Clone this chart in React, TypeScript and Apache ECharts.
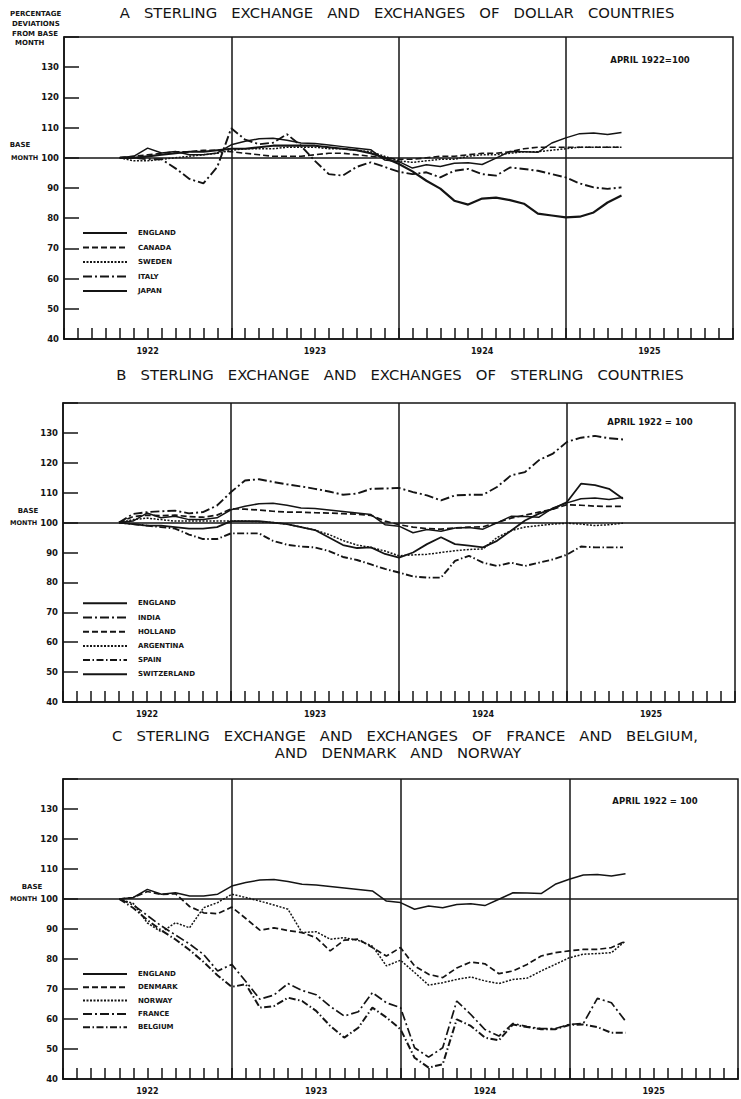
import React, { useEffect, useRef } from "react";
import * as echarts from "echarts";

// Month scale: 0 = start of 1922, 48 = end of 1925. Values plotted at month ends,
// first value = April 1922 (position 4), last = April 1925 (position 40).
const START_MONTH = 4;
const yearLabels = ["1922", "1923", "1924", "1925"];

// Sterling exchange (same series in all three panels)
const englandValues = [100, 100.5, 103.2, 101.6, 102.1, 101, 101, 101.6, 104.3, 105.5, 106.3, 106.5, 105.8, 104.9, 104.7, 104.2, 103.7, 103.2, 102.7, 99.3, 98.8, 96.6, 97.7, 97.1, 98.2, 98.4, 97.8, 99.9, 102.1, 102, 101.8, 104.9, 106.6, 108, 108.2, 107.7, 108.4];

// Panel A
const canadaValues = [100, 100.5, 101, 101.5, 102, 102, 102.5, 102.5, 102, 101.5, 101, 100.5, 100.5, 100.5, 101, 101.5, 101.5, 101, 100.5, 100, 99.5, 99.5, 100, 100.5, 100.5, 101, 101.5, 101.5, 102, 103, 103.5, 103.5, 103.5, 103.5, 103.5, 103.5, 103.5];
const swedenValues = [100, 99, 99, 99.5, 100, 100.5, 101, 101.5, 102.5, 103, 103, 103, 103.5, 103.5, 103.5, 103, 103, 102.5, 102, 100.5, 99, 98.5, 99, 99.5, 99.5, 100.5, 101, 101, 101.5, 102, 102, 102.5, 103, 103.5, 103.5, 103.5, 103.5];
const italyValues = [100, 100, 99.5, 99.5, 96.5, 93, 91.5, 97, 109.8, 106, 104.5, 105, 107.8, 104, 99, 94.6, 94.1, 97, 98.5, 97, 95.4, 94.6, 95.2, 93.5, 95.7, 96.3, 94.6, 94.1, 96.8, 96.3, 95.7, 94.6, 93.5, 91.5, 90.2, 89.7, 90.2];
const japanValues = [100, 100, 100.5, 101, 101.5, 102, 102, 102.5, 103, 103, 103.5, 104, 104, 104, 104, 103.5, 103, 102.5, 101.5, 100, 98, 95.5, 92.4, 89.8, 85.8, 84.5, 86.5, 86.8, 86, 84.8, 81.5, 80.9, 80.3, 80.5, 81.9, 85.2, 87.5];

// Panel B
const indiaValues = [100, 102.9, 103.5, 103.8, 104, 103.1, 103.5, 105.7, 110.2, 114.1, 114.5, 113.6, 112.8, 112.1, 111.3, 110.4, 109.3, 109.7, 111.3, 111.4, 111.6, 110.2, 109.1, 107.4, 109.1, 109.3, 109.3, 111.9, 115.8, 116.9, 120.9, 123.1, 127, 128.4, 129, 128.2, 127.8];
const hollandValues = [100, 102, 102.5, 102.3, 102.5, 102, 101.8, 102.5, 104.6, 104.5, 104.2, 103.8, 103.5, 103.5, 103.3, 103.2, 103, 102.8, 102.4, 100.5, 99.3, 98.5, 98, 97.8, 98.2, 98.5, 98.6, 100, 101.5, 102.5, 103.5, 104.5, 106, 105.8, 105.5, 105.4, 105.4];
const argentinaValues = [100, 101, 101.5, 101, 100.5, 100.5, 100.5, 100.5, 100.5, 100.5, 100.3, 100, 99.5, 98.5, 97.5, 96, 94, 92.5, 91.7, 90.5, 88.9, 89.2, 89.4, 90, 90.6, 91, 91.2, 95, 97.3, 98.5, 99, 99.5, 99.8, 99.5, 99, 99.3, 99.8];
const spainValues = [100, 99.5, 99, 98.5, 98, 96, 94.5, 94.5, 96.4, 96.4, 96.4, 93.9, 92.6, 92, 91.7, 90.5, 88.5, 87.5, 86, 84.5, 83.3, 82, 81.6, 81.6, 87.2, 88.9, 86.6, 85.5, 86.6, 85.5, 86.6, 87.7, 89.3, 92, 91.7, 91.7, 91.7];
const switzerlandValues = [100, 99.5, 99, 99, 98.5, 98, 98, 98.5, 100.5, 100.5, 100.5, 100, 99.5, 98.5, 97.5, 95, 92.5, 91.5, 91.7, 89.5, 88.3, 90, 92.8, 95.1, 92.8, 92.3, 91.7, 93.9, 97.3, 100.7, 103, 104.6, 106.9, 113, 112.5, 111.3, 108];

// Panel C
const denmarkValues = [100, 100.5, 102.5, 101.5, 101.8, 97.5, 95.4, 95.1, 97.3, 93.5, 89.6, 90.4, 89.5, 88.8, 87.1, 82.7, 86.3, 86.6, 83.8, 81, 83.8, 77.7, 74.9, 73.8, 77, 79, 78.4, 75.1, 76, 78.2, 81, 82.1, 82.7, 83.2, 83.2, 83.8, 86];
const norwayValues = [100, 98.5, 92, 89, 92.1, 90.4, 97.1, 98.8, 101.6, 100.5, 99.3, 98, 96.6, 88.8, 89.1, 86.6, 87.1, 86.2, 84.3, 77.7, 79.6, 75.5, 71.3, 72.1, 73.2, 74, 72.7, 71.8, 73.2, 73.6, 76, 78.2, 80.4, 81.6, 81.8, 82.1, 86];
const franceValues = [100, 98, 94.5, 91, 88, 85, 81.5, 76, 78.2, 72.5, 66.6, 68, 71.8, 69.5, 68.1, 64.2, 61, 62.4, 68.8, 65.4, 63.8, 50.4, 47.3, 50.4, 66, 61.5, 56.5, 54.3, 58.5, 57.5, 56.8, 56.8, 58.2, 58.5, 66.9, 65.4, 59.3];
const belgiumValues = [100, 97, 93, 89.5, 86.5, 83, 79, 74.5, 70.7, 71.6, 63.8, 64.3, 67.1, 66, 62.7, 57.7, 53.8, 57.1, 63.8, 60.5, 56.6, 47.1, 43.8, 44.9, 59.9, 57.7, 53.8, 52.9, 58.2, 57.3, 56.6, 56.6, 58, 58.2, 57.3, 55.4, 55.4];

const INK = "#141414";
const FONT = "DejaVu Sans";

const grids = [
  { left: 64, top: 37, width: 669, height: 302 },
  { left: 63, top: 403, width: 672, height: 299 },
  { left: 63, top: 779, width: 676, height: 300 },
];

function mkLine(name: string, values: number[], g: number, type: any, width: number) {
  return {
    type: "line",
    name,
    xAxisIndex: g,
    yAxisIndex: g,
    data: values.map((v, k) => [START_MONTH + k, v]),
    symbol: "none",
    silent: true,
    z: 3,
    lineStyle: { color: INK, width, type },
    itemStyle: { color: INK },
  };
}

function frameSeries(g: number) {
  return {
    type: "line",
    name: "frame" + g,
    xAxisIndex: g,
    yAxisIndex: g,
    data: [],
    silent: true,
    markLine: {
      silent: true,
      symbol: ["none", "none"],
      label: { show: false },
      lineStyle: { color: INK, width: 1.5, type: "solid" },
      data: [{ xAxis: 12 }, { xAxis: 24 }, { xAxis: 36 }, { yAxis: 100 }],
    },
  };
}

const DASH = [6, 3];
const DOT = [2, 1.5];
const DASHDOT = [9, 3, 2, 3];
const DASHDOTDOT = [7, 2.5, 1.5, 2.5];

function axes() {
  const xAxis: any[] = [];
  const yAxis: any[] = [];
  for (let g = 0; g < 3; g++) {
    xAxis.push({
      type: "value",
      gridIndex: g,
      min: 0,
      max: 48,
      interval: 1,
      axisLine: { show: true, lineStyle: { color: INK, width: 1.6 } },
      axisTick: { show: true, inside: true, length: 11, lineStyle: { color: INK, width: 1.5 } },
      splitLine: { show: false },
      axisLabel: {
        formatter: (v: number) => (v % 12 === 6 ? yearLabels[(v - 6) / 12] : ""),
        fontSize: 8,
        fontWeight: "bold",
        fontFamily: FONT,
        color: INK,
        margin: 8,
      },
    });
    yAxis.push({
      type: "value",
      gridIndex: g,
      min: 40,
      max: 140,
      interval: 10,
      axisLine: { show: true, lineStyle: { color: INK, width: 1.6 } },
      axisTick: { show: true, inside: true, length: 15, lineStyle: { color: INK, width: 1.5 } },
      splitLine: { show: false },
      axisLabel: {
        formatter: (v: number) => (v === 140 ? "" : v === 100 ? "{m|MONTH} 100" : String(v)),
        fontSize: 8.5,
        fontWeight: "bold",
        fontFamily: FONT,
        color: INK,
        margin: 5,
        rich: { m: { fontSize: 6.5, fontWeight: "bold", fontFamily: FONT, color: INK } },
      },
    });
  }
  return { xAxis, yAxis };
}

function legendAt(names: string[], top: number, gap: number) {
  return {
    data: names,
    orient: "vertical",
    left: 82,
    top,
    padding: 0,
    itemWidth: 44,
    itemHeight: 8,
    itemGap: gap,
    selectedMode: false,
    itemStyle: { opacity: 0 },
    textStyle: { fontSize: 7, fontWeight: "bold", fontFamily: FONT, color: INK, padding: [0, 0, 0, 6] },
  };
}

function txt(text: string, x: number, y: number, size: number, bold: boolean, align = "left") {
  return {
    type: "text",
    x,
    y,
    silent: true,
    style: {
      text,
      fontSize: size,
      fontWeight: bold ? "bold" : "normal",
      fontFamily: FONT,
      fill: INK,
      textAlign: align,
      textVerticalAlign: "middle",
    },
  };
}

export default function App() {
  const ref = useRef<HTMLDivElement>(null);
  useEffect(() => {
    document.body.style.margin = "0";
    if (!ref.current) return;
    const chart = echarts.init(ref.current, null, { renderer: "svg" });
    const { xAxis, yAxis } = axes();
    const option: any = {
      animation: false,
      backgroundColor: "#ffffff",
      grid: grids.map((g) => ({ ...g, show: true, borderColor: INK, borderWidth: 1.5, backgroundColor: "transparent" })),
      xAxis,
      yAxis,
      legend: [
        legendAt(["ENGLAND", "CANADA", "SWEDEN", "ITALY", "JAPAN"], 229.5, 7.5),
        legendAt(["ENGLAND", "INDIA", "HOLLAND", "ARGENTINA", "SPAIN", "SWITZERLAND"], 599.8, 7.2),
        legendAt(["ENGLAND", "DENMARK", "NORWAY", "FRANCE", "BELGIUM"], 970.5, 6.3),
      ],
      series: [
        frameSeries(0),
        mkLine("ENGLAND", englandValues, 0, "solid", 1.5),
        mkLine("CANADA", canadaValues, 0, DASH, 1.6),
        mkLine("SWEDEN", swedenValues, 0, DOT, 1.5),
        mkLine("ITALY", italyValues, 0, DASHDOT, 1.9),
        mkLine("JAPAN", japanValues, 0, "solid", 2.2),
        frameSeries(1),
        mkLine("ENGLAND", englandValues, 1, "solid", 1.5),
        mkLine("INDIA", indiaValues, 1, DASHDOT, 1.9),
        mkLine("HOLLAND", hollandValues, 1, DASH, 1.7),
        mkLine("ARGENTINA", argentinaValues, 1, DOT, 1.5),
        mkLine("SPAIN", spainValues, 1, DASHDOTDOT, 1.9),
        mkLine("SWITZERLAND", switzerlandValues, 1, "solid", 1.8),
        frameSeries(2),
        mkLine("ENGLAND", englandValues, 2, "solid", 1.5),
        mkLine("DENMARK", denmarkValues, 2, DASH, 1.7),
        mkLine("NORWAY", norwayValues, 2, DOT, 1.5),
        mkLine("FRANCE", franceValues, 2, DASHDOT, 1.7),
        mkLine("BELGIUM", belgiumValues, 2, DASHDOTDOT, 2),
      ],
      graphic: [
        txt("A   STERLING   EXCHANGE   AND   EXCHANGES   OF   DOLLAR   COUNTRIES", 397, 12, 14.8, false, "center"),
        txt("PERCENTAGE", 10, 14, 7, true),
        txt("DEVIATIONS", 12, 24, 7, true),
        txt("FROM BASE", 12, 33.5, 7, true),
        txt("MONTH", 15, 42.5, 7, true),
        txt("BASE", 20, 145, 7, true, "center"),
        txt("APRIL 1922=100", 650, 60, 8.5, true, "center"),
        txt("B   STERLING   EXCHANGE   AND   EXCHANGES   OF   STERLING   COUNTRIES", 400, 374, 14.8, false, "center"),
        txt("BASE", 28, 511, 7, true, "center"),
        txt("APRIL 1922 = 100", 650, 422, 8.5, true, "center"),
        txt("C   STERLING   EXCHANGE   AND   EXCHANGES   OF   FRANCE   AND   BELGIUM,", 405, 735, 14.8, false, "center"),
        txt("AND   DENMARK   AND   NORWAY", 398, 752, 14.8, false, "center"),
        txt("BASE", 32, 887, 7, true, "center"),
        txt("APRIL 1922 = 100", 655, 801, 8.5, true, "center"),
      ],
    };
    chart.setOption(option);
    return () => chart.dispose();
  }, []);
  return <div ref={ref} style={{ width: 741, height: 1099 }} />;
}
